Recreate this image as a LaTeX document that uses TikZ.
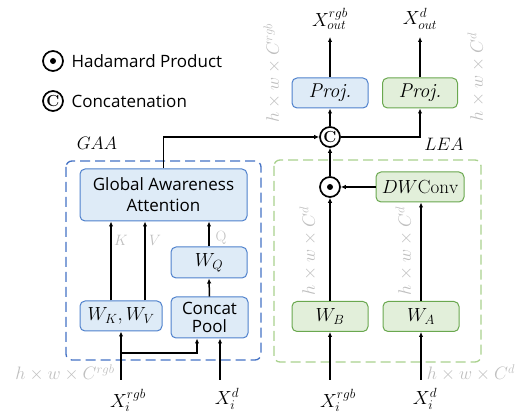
\RequirePackage{fix-cm}
\documentclass[tikz,border=0pt]{standalone}
\usepackage{fontspec}
\newfontfamily\sansf{Open Sans}
\usetikzlibrary{arrows.meta,calc}
\definecolor{bfill}{HTML}{DEEBF7}
\definecolor{bdraw}{HTML}{4F81CC}
\definecolor{gfill}{HTML}{E2EFDA}
\definecolor{gdraw}{HTML}{6AA84F}
\definecolor{bdash}{HTML}{4472C4}
\definecolor{gdash}{HTML}{A9D18E}
\definecolor{graytxt}{HTML}{BFBFBF}
\begin{document}
\begin{tikzpicture}[x=1pt,y=-1pt,
 bbox/.style={draw=bdraw,fill=bfill,rounded corners=5pt,line width=1pt,inner sep=0pt},
 gbox/.style={draw=gdraw,fill=gfill,rounded corners=5pt,line width=1pt,inner sep=0pt},
 arr/.style={line width=1.5pt,-{Latex[length=5pt,width=4.5pt]}},
 gl/.style={text=graytxt,font=\fontsize{18}{18}\selectfont,inner sep=0pt},
 mt/.style={font=\fontsize{19}{19}\selectfont,inner sep=0pt},
 sf/.style={font=\sansf\fontsize{17}{21}\selectfont,align=center},
 op/.style={circle,draw,line width=1.7pt,minimum size=20pt,inner sep=0pt},
 catop/.style={op,font=\fontsize{16}{16}\selectfont\bfseries},
 dbox/.style={rounded corners=6pt,line width=1.3pt,dash pattern=on 10pt off 5pt},
]
\useasboundingbox (0,0) rectangle (515,414);

% legend
\node[op] (lh) at (53,61) {};
\fill (lh.center) circle (3pt);
\node[sf,anchor=west] (lht) at (68,61) {Hadamard Product};
\node[catop] (lc) at (53,101) {C};
\node[sf,anchor=west] (lct) at (68,101) {Concatenation};

% dashed regions
\draw[dbox,draw=bdash] (66,161) rectangle (261,360);
\draw[dbox,draw=gdash] (274,160) rectangle (481,362);
\node[mt,font=\fontsize{18}{18}\selectfont] (gaalbl) at (97,143) {$GAA$};
\node[mt,font=\fontsize{18}{18}\selectfont] (lealbl) at (444,144) {$LEA$};

% GAA branch
\node[bbox,sf,minimum width=167pt,minimum height=52pt] (gaa) at (163.5,195) {Global Awareness\\Attention};
\node[bbox,mt,minimum width=76pt,minimum height=31pt] (wq) at (209,262.5) {$W_Q$};
\node[bbox,mt,minimum width=82pt,minimum height=30pt] (wkv) at (121,316) {$W_K, W_V$};
\node[bbox,sf,minimum width=77pt,minimum height=41pt] (cp) at (209.5,317.5) {Concat\\[-3pt]Pool};

% LEA branch
\node[gbox,mt,minimum width=88pt,minimum height=30pt] (dw) at (420,187) {$DW\mathrm{Conv}$};
\node[gbox,mt,minimum width=76pt,minimum height=30pt] (wb) at (330,316.5) {$W_B$};
\node[gbox,mt,minimum width=76pt,minimum height=30pt] (wa) at (421,316.5) {$W_A$};
\node[op] (had) at (330,187) {};
\fill (had.center) circle (3pt);
\node[catop] (cat) at (330,137) {C};

% projections
\node[bbox,mt,font=\fontsize{20}{20}\selectfont,minimum width=76pt,minimum height=30pt] (projb) at (330,93) {\textit{Proj.}};
\node[gbox,mt,font=\fontsize{20}{20}\selectfont,minimum width=75pt,minimum height=30pt] (projg) at (420,93) {\textit{Proj.}};

% outputs
\node[mt] (xob) at (330,19) {$X_{out}^{rgb}$};
\node[mt] (xog) at (420,19) {$X_{out}^{d}$};
\coordinate (ob) at (330,37);
\coordinate (og) at (420,37);

% inputs
\node[mt] (xib1) at (128,400) {$X_i^{rgb}$};
\node[mt] (xid1) at (227,399) {$X_i^{d}$};
\node[mt] (xib2) at (338,400) {$X_i^{rgb}$};
\node[mt] (xid2) at (425,399) {$X_i^{d}$};
\coordinate (ib1) at (121,380);
\coordinate (id1) at (220,380);
\coordinate (ib2) at (330,380);
\coordinate (id2) at (421,380);
\coordinate (br) at (121,353);

% gray shape labels
\node[gl] (s1) at (65,373) {$h\times w\times C^{rgb}$};
\node[gl] (s2) at (471,373) {$h\times w\times C^{d}$};
\node[gl,rotate=90] (s3) at (272,73) {$h\times w\times C^{rgb}$};
\node[gl,rotate=90] (s4) at (476,77) {$h\times w\times C^{d}$};
\node[gl,rotate=90] (s5) at (308,251) {$h\times w\times C^{d}$};
\node[gl,rotate=90] (s6) at (404,251) {$h\times w\times C^{d}$};
\node[gl,font=\fontsize{15}{15}\selectfont] (lk) at (121,240) {$K$};
\node[gl,font=\fontsize{15}{15}\selectfont] (lv) at (155,240) {$V$};
\node[gl,font=\fontsize{15}{15}\selectfont] (lq) at (221,238) {$\mathrm{Q}$};

% connectors GAA
\draw[arr] (ib1) -- (wkv.south);
\draw[arr] (br) -| ([xshift=-12.5pt]cp.south);
\draw[arr] (id1) -- ([xshift=10.5pt]cp.south);
\draw[arr] (cp.north) -- (wq.south);
\draw[arr] (wq.north) -- (wq.north |- gaa.south);
\draw[arr] ([xshift=-10pt]wkv.north) -- ([xshift=-10pt]wkv.north |- gaa.south);
\draw[arr] ([xshift=24pt]wkv.north) -- ([xshift=24pt]wkv.north |- gaa.south);
\draw[arr] (gaa.north) |- (cat.west);

% connectors LEA
\draw[arr] (ib2) -- (wb.south);
\draw[arr] (id2) -- (wa.south);
\draw[arr] (wb.north) -- (had.south);
\draw[arr] (wa.north) -- (wa.north |- dw.south);
\draw[arr] (dw.west) -- (had.east);
\draw[arr] (had.north) -- (cat.south);
\draw[arr] (cat.north) -- (projb.south);
\draw[arr] (cat.east) -| (projg.south);
\draw[arr] (projb.north) -- (ob);
\draw[arr] (projg.north) -- (og);
\end{tikzpicture}
\end{document}
